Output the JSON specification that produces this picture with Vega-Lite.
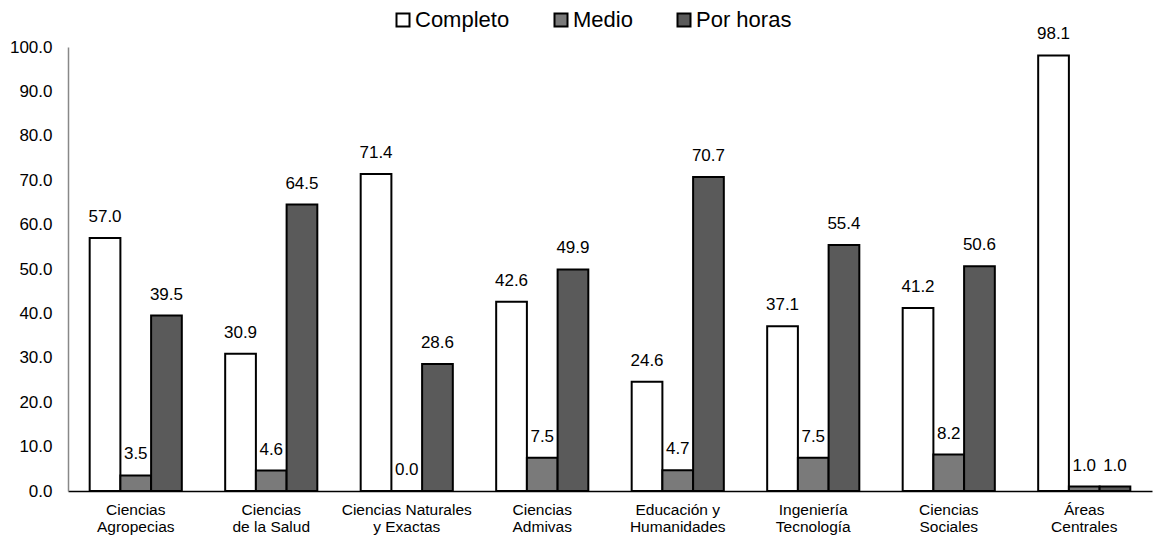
{
  "$schema": "https://vega.github.io/schema/vega-lite/v6.json",
  "autosize": {"type": "none"},
  "padding": {"left": 68, "top": 47, "right": 16, "bottom": 48},
  "width": 1084,
  "height": 444,
  "background": "white",
  "config": {
    "view": {"stroke": null},
    "font": "Liberation Sans"
  },
  "data": {
    "values": [
      {"area": "Ciencias|Agropecias", "tipo": "Completo", "valor": 57.0},
      {"area": "Ciencias|Agropecias", "tipo": "Medio", "valor": 3.5},
      {"area": "Ciencias|Agropecias", "tipo": "Por horas", "valor": 39.5},
      {"area": "Ciencias|de la Salud", "tipo": "Completo", "valor": 30.9},
      {"area": "Ciencias|de la Salud", "tipo": "Medio", "valor": 4.6},
      {"area": "Ciencias|de la Salud", "tipo": "Por horas", "valor": 64.5},
      {"area": "Ciencias Naturales|y Exactas", "tipo": "Completo", "valor": 71.4},
      {"area": "Ciencias Naturales|y Exactas", "tipo": "Medio", "valor": 0.0},
      {"area": "Ciencias Naturales|y Exactas", "tipo": "Por horas", "valor": 28.6},
      {"area": "Ciencias|Admivas", "tipo": "Completo", "valor": 42.6},
      {"area": "Ciencias|Admivas", "tipo": "Medio", "valor": 7.5},
      {"area": "Ciencias|Admivas", "tipo": "Por horas", "valor": 49.9},
      {"area": "Educación y|Humanidades", "tipo": "Completo", "valor": 24.6},
      {"area": "Educación y|Humanidades", "tipo": "Medio", "valor": 4.7},
      {"area": "Educación y|Humanidades", "tipo": "Por horas", "valor": 70.7},
      {"area": "Ingeniería|Tecnología", "tipo": "Completo", "valor": 37.1},
      {"area": "Ingeniería|Tecnología", "tipo": "Medio", "valor": 7.5},
      {"area": "Ingeniería|Tecnología", "tipo": "Por horas", "valor": 55.4},
      {"area": "Ciencias|Sociales", "tipo": "Completo", "valor": 41.2},
      {"area": "Ciencias|Sociales", "tipo": "Medio", "valor": 8.2},
      {"area": "Ciencias|Sociales", "tipo": "Por horas", "valor": 50.6},
      {"area": "Áreas|Centrales", "tipo": "Completo", "valor": 98.1},
      {"area": "Áreas|Centrales", "tipo": "Medio", "valor": 1.0},
      {"area": "Áreas|Centrales", "tipo": "Por horas", "valor": 1.0}
    ]
  },
  "encoding": {
    "x": {
      "field": "area",
      "type": "nominal",
      "sort": null,
      "scale": {"paddingInner": 0.32, "paddingOuter": 0.16},
      "axis": {
        "title": null,
        "labelAngle": 0,
        "labelExpr": "split(datum.label, '|')",
        "labelFontSize": 15.5,
        "labelLineHeight": 17,
        "labelColor": "#000000",
        "labelPadding": 11,
        "ticks": false,
        "domainColor": "#000000",
        "domainWidth": 1.5,
        "labelFont": "Liberation Sans"
      }
    },
    "xOffset": {"field": "tipo", "type": "nominal", "sort": ["Completo", "Medio", "Por horas"]},
    "y": {
      "field": "valor",
      "type": "quantitative",
      "scale": {"domain": [0, 100], "nice": false},
      "axis": {
        "title": null,
        "values": [0, 10, 20, 30, 40, 50, 60, 70, 80, 90, 100],
        "format": ".1f",
        "grid": false,
        "ticks": false,
        "labelFontSize": 17,
        "labelColor": "#000000",
        "labelPadding": 16,
        "domainColor": "#888888",
        "domainWidth": 1.5,
        "labelFont": "Liberation Sans"
      }
    }
  },
  "layer": [
    {
      "mark": {"type": "bar", "stroke": "#000000", "strokeWidth": 2},
      "encoding": {
        "fill": {
          "field": "tipo",
          "type": "nominal",
          "sort": ["Completo", "Medio", "Por horas"],
          "scale": {"domain": ["Completo", "Medio", "Por horas"], "range": ["#ffffff", "#7a7a7a", "#5a5a5a"]},
          "legend": {
            "title": null,
            "orient": "none",
            "direction": "horizontal",
            "legendX": 324,
            "legendY": -38,
            "symbolType": "square",
            "symbolSize": 169,
            "symbolStrokeColor": "#000000",
            "symbolStrokeWidth": 2,
            "symbolOpacity": 1,
            "labelFontSize": 22,
            "labelColor": "#000000",
            "labelOffset": 1,
            "columnPadding": 40,
            "labelFont": "Liberation Sans"
          }
        }
      }
    },
    {
      "mark": {"type": "text", "baseline": "bottom", "dy": -12, "fontSize": 17, "color": "#000000", "font": "Liberation Sans"},
      "encoding": {
        "text": {"field": "valor", "type": "quantitative", "format": ".1f"}
      }
    }
  ]
}
